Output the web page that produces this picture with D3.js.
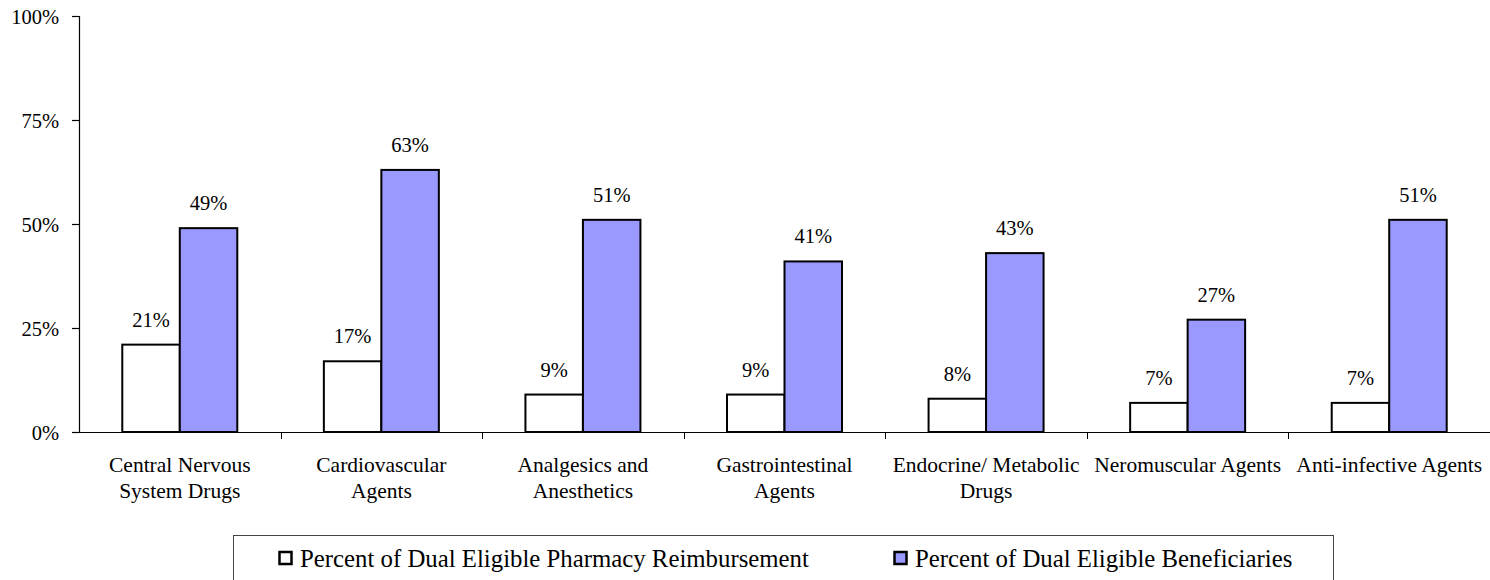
<!DOCTYPE html>
<html>
<head>
<meta charset="utf-8">
<script src="https://cdn.jsdelivr.net/npm/d3@7"></script>
<style>
  html, body { margin: 0; padding: 0; background: #fff; }
  svg { display: block; font-family: "Liberation Serif", "Times New Roman", serif; }
</style>
</head>
<body>
<svg id="chart" width="1490" height="580"></svg>
<script>
const categories = [
  ["Central Nervous", "System Drugs"],
  ["Cardiovascular", "Agents"],
  ["Analgesics and", "Anesthetics"],
  ["Gastrointestinal", "Agents"],
  ["Endocrine/ Metabolic", "Drugs"],
  ["Neromuscular Agents"],
  ["Anti-infective Agents"]
];
const seriesNames = ["Percent of Dual Eligible Pharmacy Reimbursement", "Percent of Dual Eligible Beneficiaries"];
const reimbursement = [21, 17, 9, 9, 8, 7, 7];
const beneficiaries = [49, 63, 51, 41, 43, 27, 51];
const seriesColors = ["#FFFFFF", "#9999FF"];
const yTicks = [0, 25, 50, 75, 100];

(function () {
const svg = d3.select("#chart");
const mLeft = 79, mRight = 1490, mTop = 16, mBottom = 432;

const keys = categories.map((c, i) => i);
const x = d3.scaleBand().domain(keys).range([mLeft, mRight]).paddingInner(0).paddingOuter(0);
const xs = d3.scaleBand().domain([0, 1]).range([0, x.bandwidth()]).paddingInner(0).paddingOuter(0.753);
const y = d3.scaleLinear().domain([0, 100]).range([mBottom, mTop]);

// Y axis
const yAxis = d3.axisLeft(y).tickValues(yTicks).tickSize(7).tickPadding(13).tickFormat(d => d + "%");
const gy = svg.append("g").attr("transform", `translate(${mLeft},0)`).call(yAxis);
gy.select(".domain").attr("stroke", "#000").attr("stroke-width", 1.2);
gy.selectAll(".tick line").attr("stroke", "#000").attr("stroke-width", 1.2);
gy.selectAll(".tick text").attr("font-size", 20.5).attr("fill", "#000")
  .attr("font-family", "Liberation Serif, Times New Roman, serif").attr("dy", "0.36em");

// X axis (category boundaries as ticks)
svg.append("line").attr("x1", mLeft).attr("x2", mRight).attr("y1", mBottom + 0.5).attr("y2", mBottom + 0.5)
  .attr("stroke", "#000").attr("stroke-width", 1.2);
svg.append("g").selectAll("line").data(keys.slice(1)).join("line")
  .attr("x1", d => Math.round(x(d)) + 0.5).attr("x2", d => Math.round(x(d)) + 0.5)
  .attr("y1", mBottom).attr("y2", mBottom + 7)
  .attr("stroke", "#000").attr("stroke-width", 1);

// Category labels
const cl = svg.append("g").selectAll("text").data(keys).join("text")
  .attr("x", d => x(d) + x.bandwidth() / 2)
  .attr("y", 472)
  .attr("text-anchor", "middle")
  .attr("font-size", 21.5)
  .attr("fill", "#000");
cl.each(function(d) {
  const t = d3.select(this);
  categories[d].forEach((line, i) => {
    t.append("tspan").attr("x", x(d) + x.bandwidth() / 2).attr("dy", i === 0 ? 0 : 26).text(line);
  });
});

// Bars
const series = [reimbursement, beneficiaries];
series.forEach((vals, s) => {
  const g = svg.append("g");
  g.selectAll("rect").data(vals).join("rect")
    .attr("x", (v, i) => x(i) + xs(s))
    .attr("y", v => y(v))
    .attr("width", xs.bandwidth())
    .attr("height", v => mBottom - y(v))
    .attr("fill", seriesColors[s])
    .attr("stroke", "#000")
    .attr("stroke-width", 2);
  g.selectAll("text").data(vals).join("text")
    .attr("x", (v, i) => x(i) + xs(s) + xs.bandwidth() / 2)
    .attr("y", v => y(v) - 18)
    .attr("text-anchor", "middle")
    .attr("font-size", 20.5)
    .attr("fill", "#000")
    .text(v => v + "%");
});

// Legend
const lg = svg.append("g");
lg.append("rect").attr("x", 233.5).attr("y", 535.5).attr("width", 1100).attr("height", 60)
  .attr("fill", "#fff").attr("stroke", "#444").attr("stroke-width", 1);
const legendX = [278, 893];
seriesNames.forEach((name, s) => {
  lg.append("rect").attr("x", legendX[s] + 1.5).attr("y", 552).attr("width", 12).attr("height", 12)
    .attr("fill", seriesColors[s]).attr("stroke", "#000").attr("stroke-width", 2.5);
  lg.append("text").attr("x", legendX[s] + 22).attr("y", 567)
    .attr("font-size", 24.8).attr("fill", "#000").text(name);
});
})();
</script>
</body>
</html>
